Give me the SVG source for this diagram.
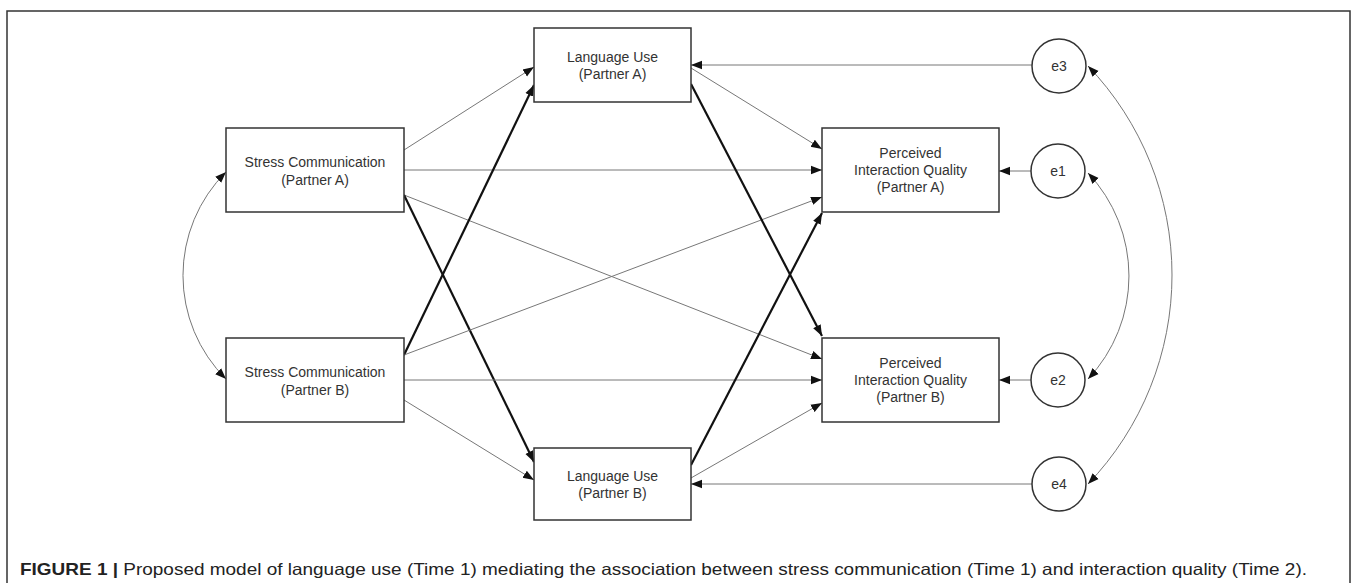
<svg xmlns="http://www.w3.org/2000/svg" width="1357" height="583" viewBox="0 0 1357 583">
<style>
.box{fill:#fff;stroke:#333;stroke-width:1.5}
.circ{fill:#fff;stroke:#333;stroke-width:1.5}
.lbl{font-family:"Liberation Sans",Arial,sans-serif;font-size:14px;fill:#333;text-anchor:middle}
.thin{fill:none;stroke:#777;stroke-width:1}
.thick{fill:none;stroke:#111;stroke-width:2.2}
.cap{font-family:"Liberation Sans",Arial,sans-serif;font-size:16.5px;fill:#222}
</style>
<defs>
<marker id="ah" markerUnits="userSpaceOnUse" markerWidth="12" markerHeight="10" viewBox="0 0 12 10" refX="11" refY="5" orient="auto">
<path d="M0,0.8 L11,5 L0,9.2 Z" fill="#111"/>
</marker>
<marker id="ahs" markerUnits="userSpaceOnUse" markerWidth="12" markerHeight="10" viewBox="0 0 12 10" refX="1" refY="5" orient="auto">
<path d="M12,0.8 L1,5 L12,9.2 Z" fill="#111"/>
</marker>
</defs>
<rect x="7" y="11" width="1343" height="590" fill="none" stroke="#333" stroke-width="1.5"/>
<g id="connectors">
<line class="thin" x1="404" y1="150" x2="534" y2="67" marker-end="url(#ah)"/>
<line class="thin" x1="404" y1="170" x2="822" y2="170" marker-end="url(#ah)"/>
<line class="thin" x1="404" y1="195" x2="822" y2="359" marker-end="url(#ah)"/>
<line class="thick" x1="404" y1="195" x2="534" y2="462" marker-end="url(#ah)"/>
<line class="thick" x1="404" y1="355" x2="534" y2="85" marker-end="url(#ah)"/>
<line class="thin" x1="404" y1="355" x2="822" y2="197" marker-end="url(#ah)"/>
<line class="thin" x1="404" y1="380" x2="822" y2="380" marker-end="url(#ah)"/>
<line class="thin" x1="404" y1="400" x2="534" y2="480" marker-end="url(#ah)"/>
<line class="thin" x1="691" y1="68" x2="822" y2="149" marker-end="url(#ah)"/>
<line class="thick" x1="691" y1="84" x2="822" y2="336" marker-end="url(#ah)"/>
<line class="thick" x1="691" y1="465" x2="822" y2="213" marker-end="url(#ah)"/>
<line class="thin" x1="691" y1="478" x2="822" y2="403" marker-end="url(#ah)"/>
<line class="thin" x1="1032" y1="65" x2="691" y2="65" marker-end="url(#ah)"/>
<line class="thin" x1="1031" y1="171" x2="999" y2="171" marker-end="url(#ah)"/>
<line class="thin" x1="1031" y1="380" x2="999" y2="380" marker-end="url(#ah)"/>
<line class="thin" x1="1032" y1="484" x2="691" y2="484" marker-end="url(#ah)"/>
<path class="thin" d="M226,172 A146,146 0 0 0 226,379" marker-start="url(#ahs)" marker-end="url(#ah)"/>
<path class="thin" d="M1088,173 A150,150 0 0 1 1088,379" marker-start="url(#ahs)" marker-end="url(#ah)"/>
<path class="thin" d="M1088,66 A302,302 0 0 1 1088,484" marker-start="url(#ahs)" marker-end="url(#ah)"/>
</g>
<g id="stressA"><rect class="box" x="226" y="128" width="178" height="84"/><text class="lbl" x="315" y="167">Stress Communication</text><text class="lbl" x="315" y="185">(Partner A)</text></g>
<g id="stressB"><rect class="box" x="226" y="338" width="178" height="84"/><text class="lbl" x="315" y="377">Stress Communication</text><text class="lbl" x="315" y="395">(Partner B)</text></g>
<g id="langA"><rect class="box" x="534" y="28" width="157" height="74"/><text class="lbl" x="612.5" y="62">Language Use</text><text class="lbl" x="612.5" y="79">(Partner A)</text></g>
<g id="langB"><rect class="box" x="534" y="448" width="157" height="72"/><text class="lbl" x="612.5" y="481">Language Use</text><text class="lbl" x="612.5" y="498">(Partner B)</text></g>
<g id="pqA"><rect class="box" x="822" y="128" width="177" height="84"/><text class="lbl" x="910.5" y="158">Perceived</text><text class="lbl" x="910.5" y="175">Interaction Quality</text><text class="lbl" x="910.5" y="192">(Partner A)</text></g>
<g id="pqB"><rect class="box" x="822" y="338" width="177" height="84"/><text class="lbl" x="910.5" y="368">Perceived</text><text class="lbl" x="910.5" y="385">Interaction Quality</text><text class="lbl" x="910.5" y="402">(Partner B)</text></g>
<g id="e3"><circle class="circ" cx="1059" cy="66" r="27"/><text class="lbl" x="1059" y="71">e3</text></g>
<g id="e1"><circle class="circ" cx="1058" cy="171" r="27"/><text class="lbl" x="1058" y="176">e1</text></g>
<g id="e2"><circle class="circ" cx="1058" cy="380" r="27"/><text class="lbl" x="1058" y="385">e2</text></g>
<g id="e4"><circle class="circ" cx="1059" cy="484" r="27"/><text class="lbl" x="1059" y="489">e4</text></g>
<text class="cap" x="20" y="575" textLength="1287" lengthAdjust="spacingAndGlyphs"><tspan font-weight="bold">FIGURE 1 |</tspan> Proposed model of language use (Time 1) mediating the association between stress communication (Time 1) and interaction quality (Time 2).</text>
</svg>
